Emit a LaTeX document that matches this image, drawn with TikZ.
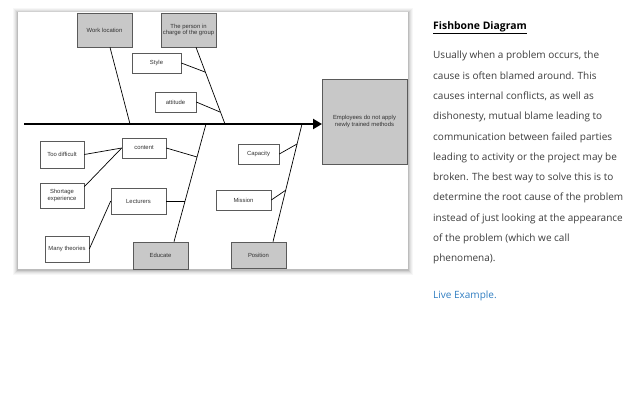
\documentclass[tikz,border=0pt]{standalone}
\usepackage{fontspec}
\setmainfont{Open Sans}
\newfontfamily\diafont{Liberation Sans}
\usetikzlibrary{arrows.meta}
\definecolor{boxgray}{RGB}{200,200,200}
\definecolor{edgegray}{RGB}{90,90,90}
\definecolor{bodytext}{RGB}{60,60,60}
\definecolor{linkblue}{RGB}{47,125,193}
\begin{document}
\begin{tikzpicture}[x=1pt,y=-1pt,
  cbox/.style={draw=edgegray,line width=0.6pt,fill=white,inner sep=0pt,align=center,
    font=\diafont\fontsize{5.9}{6.6}\selectfont,text=black!80},
  gbox/.style={cbox,fill=boxgray},
  bone/.style={line width=0.7pt,black},
  twig/.style={line width=0.7pt,black}]
\useasboundingbox (0,0) rectangle (640,400);
% panel shadow
\foreach \d/\o in {5/0.03,4/0.04,3/0.05,2/0.07,1/0.1}{
  \fill[black,opacity=\o] (18-\d,12-\d+1) rectangle (408+\d,269+\d+1);}
\fill[white] (18,12) rectangle (408,269);
% effect
\node[gbox,minimum width=85,minimum height=85] (eff) at (364.5,121.5)
  {Employees do not apply\\newly trained methods};
% spine
\coordinate (s0) at (24,124);
\coordinate (s1) at (322,124);
\draw[line width=2.8pt,-{Triangle[length=9pt,width=10pt]}] (s0) -- (s1);
% top categories
\node[gbox,minimum width=55,minimum height=34] (wl) at (104.5,30) {Work location};
\node[gbox,minimum width=55,minimum height=34] (pc) at (188.5,30) {The person in\\charge of the group};
\coordinate (jwl) at (130,124);
\coordinate (jpc) at (225,124);
\draw[bone] (wl.south -| 110,0) -- (jwl);
\draw[bone] (pc.south -| 196,0) -- (jpc);
\node[cbox,minimum width=49,minimum height=20] (sty) at (156.5,63) {Style};
\node[cbox,minimum width=41,minimum height=20] (att) at (175.5,102) {attitude};
\coordinate (jsty) at (205,72);
\coordinate (jatt) at (220,112);
\draw[twig] (sty.east) -- (jsty);
\draw[twig] (att.east) -- (jatt);
% bottom categories
\node[gbox,minimum width=55,minimum height=27] (edu) at (160.5,255.5) {Educate};
\node[gbox,minimum width=55,minimum height=26] (pos) at (258.5,255) {Position};
\coordinate (jedu) at (206,124);
\coordinate (jpos) at (302,124);
\draw[bone] (edu.north -| 174,0) -- (jedu);
\draw[bone] (pos.north -| 273,0) -- (jpos);
\node[cbox,minimum width=44,minimum height=20] (con) at (144,148) {content};
\node[cbox,minimum width=55,minimum height=26] (lec) at (138.5,201) {Lecturers};
\coordinate (jcon) at (197,157);
\coordinate (jlec) at (185,201);
\draw[twig] (con.east) -- (jcon);
\draw[twig] (lec.east) -- (jlec);
\node[cbox,minimum width=44,minimum height=27] (tdf) at (62,154.5) {Too difficult};
\node[cbox,minimum width=44,minimum height=25] (shx) at (62,195.5) {Shortage\\experience};
\node[cbox,minimum width=44,minimum height=26] (mth) at (67,249) {Many theories};
\draw[twig] (tdf.east) -- (con.west);
\draw[twig] (shx.north east) ++(0,4) coordinate (shxe) (shxe) -- (con.west);
\draw[twig] (mth.east) -- (lec.west);
\node[cbox,minimum width=41,minimum height=20] (cap) at (258.5,154) {Capacity};
\node[cbox,minimum width=55,minimum height=20] (mis) at (243.5,200) {Mission};
\coordinate (jcap) at (297,144);
\coordinate (jmis) at (286,190);
\draw[twig] (cap.east) -- (jcap);
\draw[twig] (mis.east) -- (jmis);
% text column
\node[anchor=base west,inner sep=0pt,font=\bfseries\fontsize{10.4}{12}\selectfont] (title) at (433,29)
  {\underline{Fishbone Diagram}};
\node[anchor=north west,inner sep=0pt,align=left,text=bodytext,
  font=\fontsize{10}{20.3}\selectfont] (body) at (433,51)
  {Usually when a problem occurs, the\\
   cause is often blamed around. This\\
   causes internal conflicts, as well as\\
   dishonesty, mutual blame leading to\\
   communication between failed parties\\
   leading to activity or the project may be\\
   broken. The best way to solve this is to\\
   determine the root cause of the problem\\
   instead of just looking at the appearance\\
   of the problem (which we call\\
   phenomena).};
\node[anchor=base west,inner sep=0pt,text=linkblue,font=\fontsize{10}{12}\selectfont] (live) at (433,298)
  {Live Example.};
\end{tikzpicture}
\end{document}
